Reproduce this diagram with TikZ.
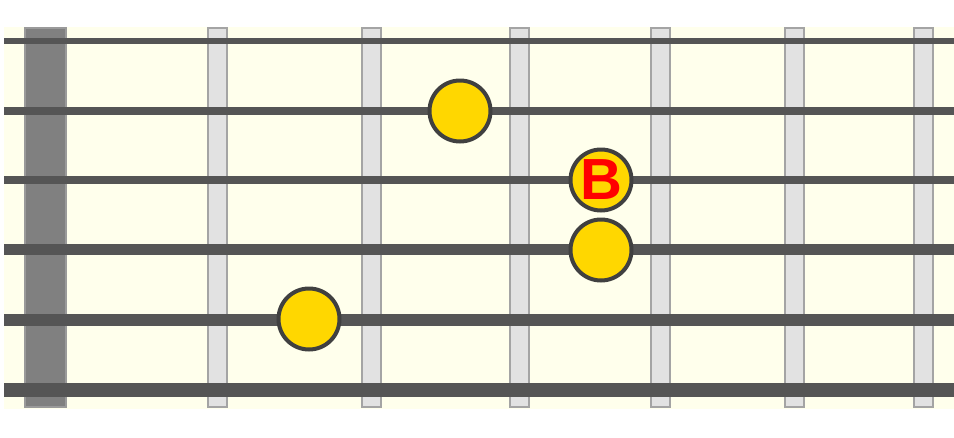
\documentclass[tikz,border=0pt]{standalone}
\usepackage{fontspec}
\setsansfont{Liberation Sans}
\usepackage{tikz}
\usetikzlibrary{positioning}
\definecolor{boardcream}{HTML}{FFFFEC}
\definecolor{nutgray}{HTML}{808080}
\definecolor{nutedge}{HTML}{9A9A9A}
\definecolor{fretfill}{HTML}{E2E2E2}
\definecolor{fretedge}{HTML}{A4A4A4}
\definecolor{stringgray}{HTML}{555555}
\definecolor{dotgold}{HTML}{FFD700}
\definecolor{dotedge}{HTML}{404040}

\begin{document}
\begin{tikzpicture}[x=1pt, y=-1pt,
    fingerdot/.style={circle, draw=dotedge, line width=4pt, fill=dotgold,
        minimum size=61pt, inner sep=0pt, font=\sffamily\bfseries\fontsize{58}{58}\selectfont, text=red}]
    \useasboundingbox (0,0) rectangle (954,437);
    % board and nut
    \fill[boardcream] (4,27) rectangle (954,409);
    \draw[fill=nutgray, draw=nutedge, line width=2pt] (25,28) rectangle (66,407);
    % frets
    \foreach \x in {217,371,519,660,794,923} {
        \draw[fill=fretfill, draw=fretedge, line width=2pt] (\x-9.5,28) rectangle (\x+9.5,407);
    }
    % strings, thin to thick
    \foreach \y/\w in {41/6.5, 111/7.5, 180/8.3, 249.5/10.5, 319.5/12, 390/13.5} {
        \draw[stringgray, line width=\w pt] (4,\y) -- (954,\y);
    }
    % fingering
    \node[fingerdot] (dotA) at (460,111) {};
    \node[fingerdot] (root) at (601,180) {\raisebox{-1pt}{B}};
    \node[fingerdot] (dotC) at (601,250) {};
    \node[fingerdot] (dotD) at (309,319) {};
\end{tikzpicture}
\end{document}
